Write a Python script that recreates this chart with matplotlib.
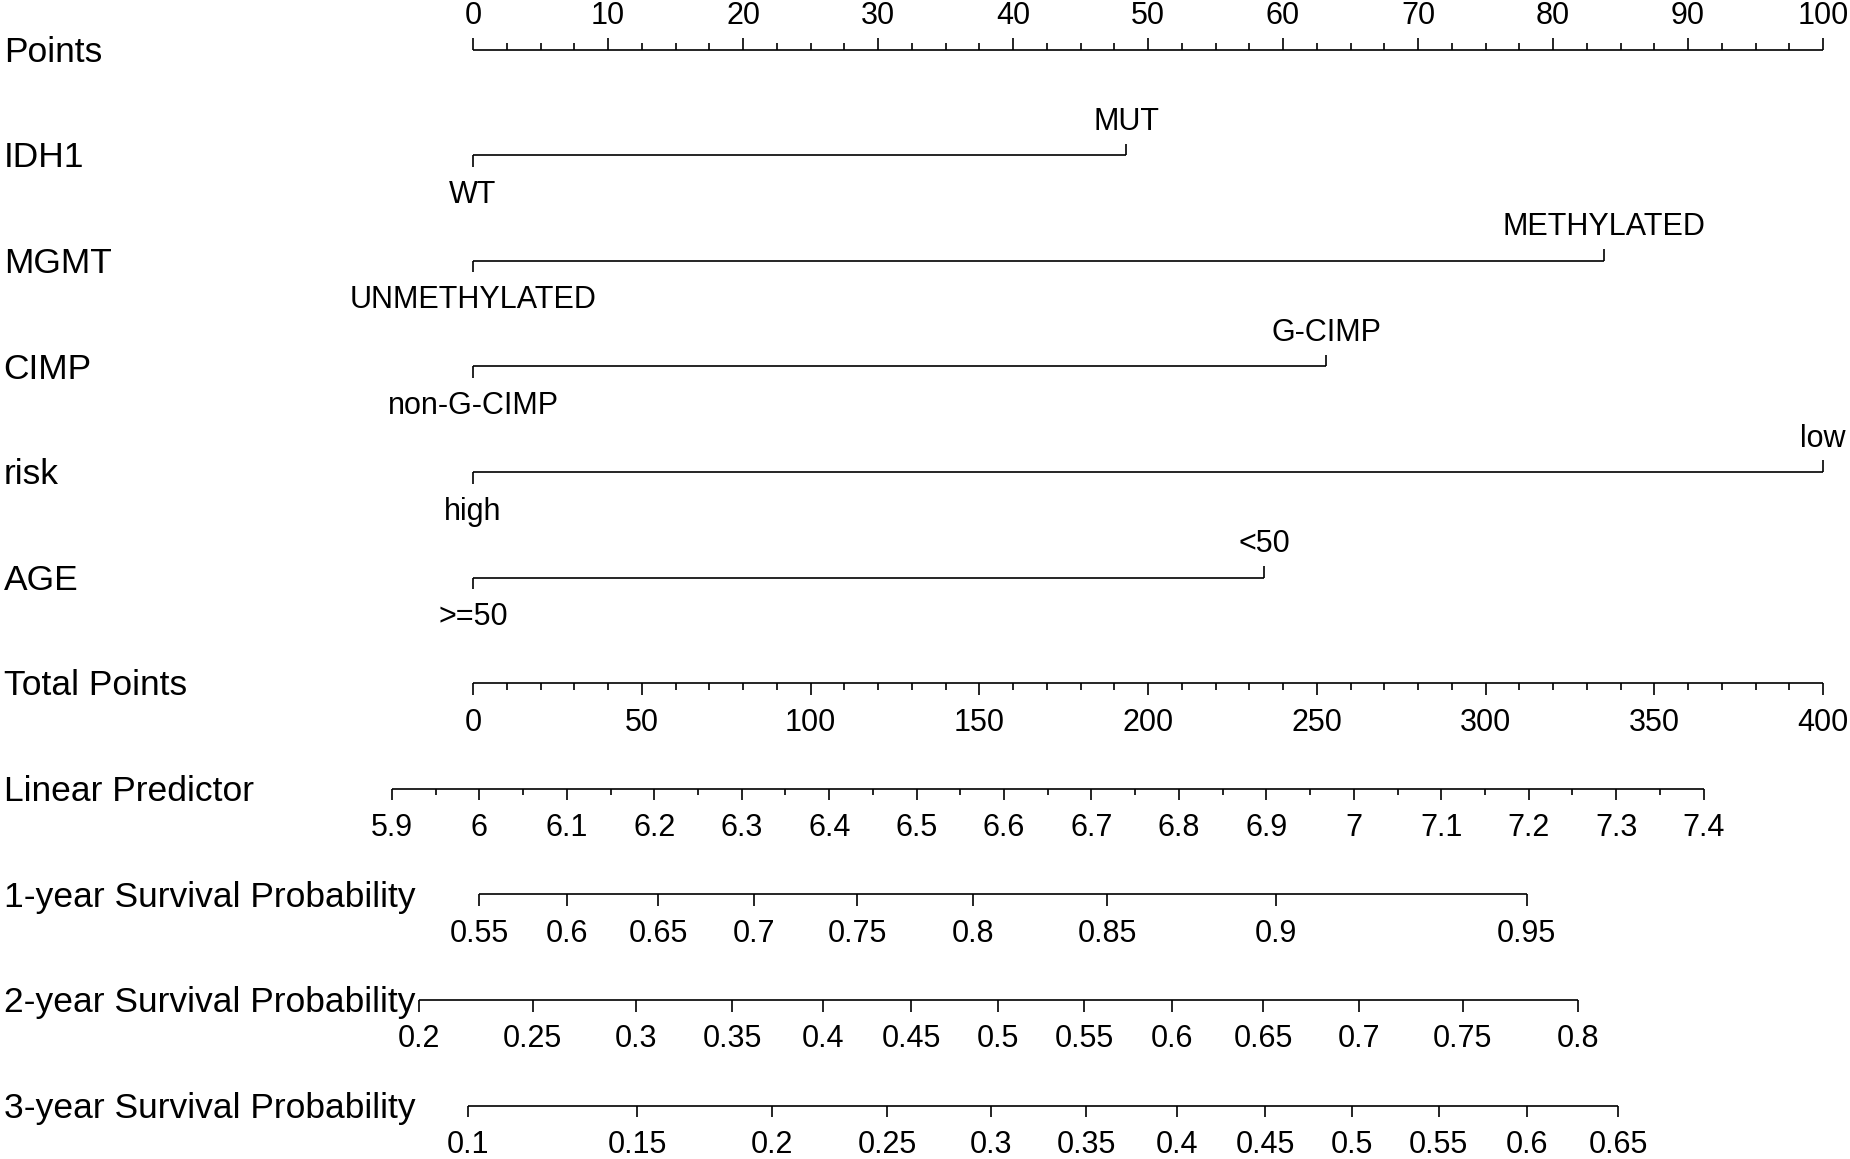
import numpy as np
import matplotlib
matplotlib.use("Agg")
import matplotlib.pyplot as plt
import matplotlib.transforms as mtransforms

plt.rcParams['font.family'] = ['Liberation Sans', 'DejaVu Sans']

# row names, top to bottom
rows = ["Points", "IDH1", "MGMT", "CIMP", "risk", "AGE", "Total Points",
        "Linear Predictor", "1-year Survival Probability",
        "2-year Survival Probability", "3-year Survival Probability"]

points_ticks = np.arange(0, 101, 10)

idh1_levels = ["WT", "MUT"]
idh1_points = [0, 48.4]
mgmt_levels = ["UNMETHYLATED", "METHYLATED"]
mgmt_points = [0, 83.8]
cimp_levels = ["non-G-CIMP", "G-CIMP"]
cimp_points = [0, 63.2]
risk_levels = ["high", "low"]
risk_points = [0, 100]
age_levels = [">=50", "<50"]
age_points = [0, 58.6]

total_ticks = np.arange(0, 401, 50)

lp_ticks = np.round(np.arange(5.9, 7.41, 0.1), 1)
lp_anchor_vals = [5.9, 7.4]        # linear predictor
lp_anchor_total = [-24.0, 364.6]   # matching total points

surv1_vals = [0.55, 0.6, 0.65, 0.7, 0.75, 0.8, 0.85, 0.9, 0.95]
surv1_total = [1.8, 27.9, 54.9, 83.2, 113.9, 148.1, 187.9, 237.9, 312.2]
surv2_vals = [0.2, 0.25, 0.3, 0.35, 0.4, 0.45, 0.5, 0.55, 0.6, 0.65, 0.7, 0.75, 0.8]
surv2_total = [-16.0, 17.7, 48.3, 76.8, 103.7, 129.8, 155.5, 181.1, 207.2,
               234.2, 262.6, 293.2, 327.3]
surv3_vals = [0.1, 0.15, 0.2, 0.25, 0.3, 0.35, 0.4, 0.45, 0.5, 0.55, 0.6, 0.65]
surv3_total = [-1.4, 48.7, 88.5, 122.7, 153.4, 181.7, 208.7, 234.8, 260.4,
               286.1, 312.2, 339.3]

fig = plt.figure(figsize=(18.5, 11.59), dpi=100)
ax = fig.add_axes([0, 0, 1, 1])
ax.set_xlim(-35.04, 102.0)
ax.set_ylim(10.506, -0.47)
ax.axis("off")

LW = 1.2
TICK_L = 0.11
TICK_S = 0.06
FS_ROW = 25.5
FS_LAB = 22
ABOVE = -0.24
BELOW = 0.45

lab_tr = mtransforms.blended_transform_factory(ax.transAxes, ax.transData)
for i, name in enumerate(rows):
    ax.text(0.002, i + 0.115, name, transform=lab_tr, fontsize=FS_ROW,
            ha="left", va="baseline")


def tick(x, y, length):
    ax.plot([x, x], [y, y + length], color="black", lw=LW,
            solid_capstyle="butt")


def scale(row, pos, labels, up=False, minor=()):
    sgn = -1 if up else 1
    ax.plot([min(pos), max(pos)], [row, row], color="black", lw=LW,
            solid_capstyle="butt")
    for p, lab in zip(pos, labels):
        tick(p, row, sgn * TICK_L)
        ax.text(p, row + (ABOVE if up else BELOW), lab, fontsize=FS_LAB,
                ha="center", va="baseline")
    for p in minor:
        tick(p, row, sgn * TICK_S)


def fmt(v):
    return "%g" % v


# Points
scale(0, points_ticks, [fmt(v) for v in points_ticks], up=True,
      minor=[m for m in np.arange(0, 100.1, 2.5) if m % 10 != 0])

# categorical predictors
for row, levels, pts in [(1, idh1_levels, idh1_points),
                         (2, mgmt_levels, mgmt_points),
                         (3, cimp_levels, cimp_points),
                         (4, risk_levels, risk_points),
                         (5, age_levels, age_points)]:
    ax.plot(pts, [row, row], color="black", lw=LW, solid_capstyle="butt")
    tick(pts[0], row, TICK_L)
    ax.text(pts[0], row + BELOW, levels[0], fontsize=FS_LAB, ha="center",
            va="baseline")
    tick(pts[1], row, -TICK_L)
    ax.text(pts[1], row + ABOVE, levels[1], fontsize=FS_LAB, ha="center",
            va="baseline")

# Total points (points axis scaled by 4)
scale(6, total_ticks / 4, [fmt(v) for v in total_ticks],
      minor=[m / 4 for m in np.arange(0, 401, 10) if m % 50 != 0])

# Linear predictor
slope = (lp_anchor_total[1] - lp_anchor_total[0]) / (lp_anchor_vals[1] - lp_anchor_vals[0])


def lp_to_pts(v):
    return (lp_anchor_total[0] + (np.asarray(v) - lp_anchor_vals[0]) * slope) / 4


lp_minor = np.round(np.arange(5.95, 7.4, 0.1), 2)
scale(7, lp_to_pts(lp_ticks), [fmt(v) for v in lp_ticks],
      minor=lp_to_pts(lp_minor))

# survival probabilities
scale(8, np.array(surv1_total) / 4, [fmt(v) for v in surv1_vals])
scale(9, np.array(surv2_total) / 4, [fmt(v) for v in surv2_vals])
scale(10, np.array(surv3_total) / 4, [fmt(v) for v in surv3_vals])

fig.savefig("out.png", dpi=100)
